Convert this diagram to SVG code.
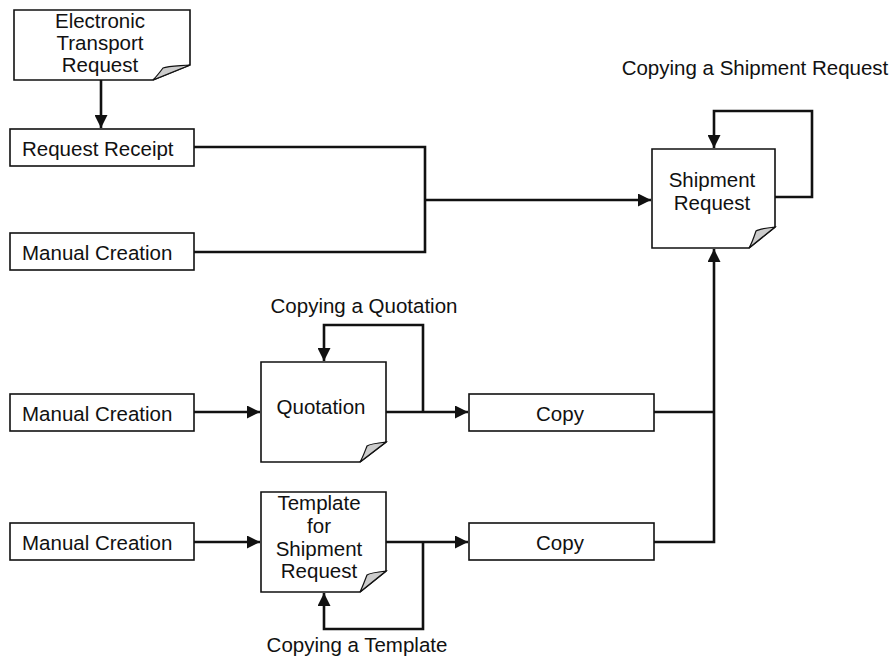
<svg xmlns="http://www.w3.org/2000/svg" width="896" height="657" viewBox="0 0 896 657">
<defs>
<marker id="ah" viewBox="0 0 10 10" refX="10" refY="5" markerWidth="5" markerHeight="5" orient="auto" markerUnits="strokeWidth">
<path d="M0,0 L10,5 L0,10 Z" fill="#111"/>
</marker>
</defs>
<style>
.box{fill:#fff;stroke:#111;stroke-width:1.6}
.fold{fill:#ccc;stroke:#111;stroke-width:1.2}
.t{font-family:"Liberation Sans",Arial,sans-serif;font-size:20.5px;fill:#111}
.c{text-anchor:middle}
.ln{fill:none;stroke:#111;stroke-width:2.6}
</style>
<rect width="896" height="657" fill="#fff"/>
<g id="etr">
<path class="box" d="M14,10 H190 V65 L153,80 H14 Z"/>
<path class="fold" d="M153,80 L190,65 C178,66 168,66 163,68 C160,72 157,76 153,80 Z"/>
<text class="t c" x="100" y="28">Electronic</text>
<text class="t c" x="100" y="50">Transport</text>
<text class="t c" x="100" y="72">Request</text>
</g>
<g id="receipt">
<rect class="box" x="10" y="129" width="184" height="37"/>
<text class="t" x="22" y="156">Request Receipt</text>
</g>
<g id="manual1">
<rect class="box" x="10" y="233" width="184" height="37"/>
<text class="t" x="22" y="260">Manual Creation</text>
</g>
<g id="shipment">
<path class="box" d="M652,149 H775 V227 L749,248 H652 Z"/>
<path class="fold" d="M749,248 L775,227 C766,228 759,229 756,231 C754,237 752,243 749,248 Z"/>
<text class="t c" x="712" y="187">Shipment</text>
<text class="t c" x="712" y="210">Request</text>
</g>
<g id="manual2">
<rect class="box" x="10" y="394" width="184" height="37"/>
<text class="t" x="22" y="421">Manual Creation</text>
</g>
<g id="quotation">
<path class="box" d="M261,362 H386 V442 L360,462 H261 Z"/>
<path class="fold" d="M360,462 L386,442 C377,443 370,444 367,446 C365,451 363,457 360,462 Z"/>
<text class="t c" x="321" y="414">Quotation</text>
</g>
<g id="copy1">
<rect class="box" x="469" y="394" width="185" height="37"/>
<text class="t c" x="560" y="421">Copy</text>
</g>
<g id="manual3">
<rect class="box" x="10" y="523" width="184" height="37"/>
<text class="t" x="22" y="550">Manual Creation</text>
</g>
<g id="template">
<path class="box" d="M261,492 H386 V571 L360,592 H261 Z"/>
<path class="fold" d="M360,592 L386,571 C377,572 370,573 367,575 C365,580 363,586 360,592 Z"/>
<text class="t c" x="319" y="510">Template</text>
<text class="t c" x="319" y="533">for</text>
<text class="t c" x="319" y="556">Shipment</text>
<text class="t c" x="319" y="578">Request</text>
</g>
<g id="copy2">
<rect class="box" x="469" y="523" width="185" height="37"/>
<text class="t c" x="560" y="550">Copy</text>
</g>
<g id="labels">
<text class="t c" x="755" y="75">Copying a Shipment Request</text>
<text class="t c" x="364" y="313">Copying a Quotation</text>
<text class="t c" x="357" y="652">Copying a Template</text>
</g>
<g id="connectors">
<path class="ln" d="M101,80 V128" marker-end="url(#ah)"/>
<path class="ln" d="M194,147 H425 V252 H194"/>
<path class="ln" d="M425,200 H651" marker-end="url(#ah)"/>
<path class="ln" d="M775,197 H812 V111 H714 V148" marker-end="url(#ah)"/>
<path class="ln" d="M654,412 H714 M654,542 H714 V249" marker-end="url(#ah)"/>
<path class="ln" d="M194,412 H260" marker-end="url(#ah)"/>
<path class="ln" d="M386,412 H468" marker-end="url(#ah)"/>
<path class="ln" d="M423,412 V325 H324 V361" marker-end="url(#ah)"/>
<path class="ln" d="M194,542 H260" marker-end="url(#ah)"/>
<path class="ln" d="M386,542 H468" marker-end="url(#ah)"/>
<path class="ln" d="M423,542 V629 H324 V593" marker-end="url(#ah)"/>
</g>
</svg>
